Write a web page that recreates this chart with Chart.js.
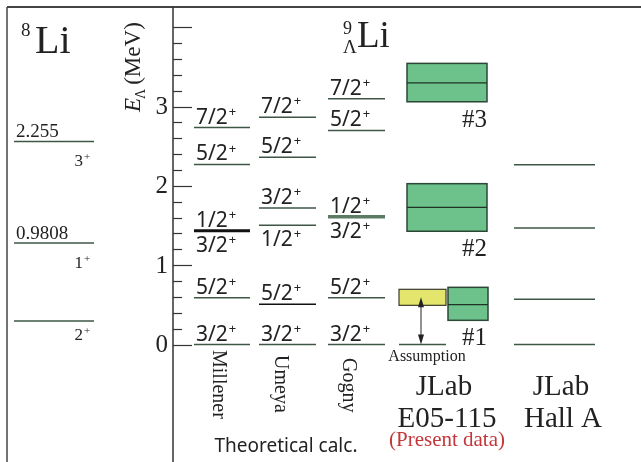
<!DOCTYPE html>
<html>
<head>
<meta charset="utf-8">
<script src="https://cdn.jsdelivr.net/npm/chart.js@4.4.0/dist/chart.umd.min.js"></script>
<style>
  html, body { margin: 0; padding: 0; background: #fff; }
  #wrap { width: 641px; height: 462px; position: relative; }
</style>
</head>
<body>
<div id="wrap"><canvas id="levels"></canvas></div>
<script>
// 8Li core levels (drawn with the ground state at ~0.3 MeV, as in the figure)
const li8Energy = [0.295, 1.28, 2.56];
const li8Value = ['', '0.9808', '2.255'];
const li8Spin = ['2', '1', '3'];

// theory, E_Lambda in MeV
const millenerE = [0, 0.59, 1.435, 2.27, 2.735];
const millenerUp = ['3/2', '5/2', '1/2', '5/2', '7/2'];
const millenerDown = ['', '', '3/2', '', ''];

const umeyaE = [0, 0.507, 1.503, 1.721, 2.361, 2.865];
const umeyaUp = ['3/2', '5/2', '', '3/2', '5/2', '7/2'];
const umeyaDown = ['', '', '1/2', '', '', ''];

const gognyE = [0, 0.59, 1.612, 2.70, 3.10];
const gognyUp = ['3/2', '5/2', '1/2', '5/2', '7/2'];
const gognyDown = ['', '', '3/2', '', ''];

// JLab E05-115 peaks
const peakNames = ['#1', '#2', '#3'];
const peakE = [0.502, 1.73, 3.30];
const peakLow = [0.305, 1.428, 3.061];
const peakHigh = [0.721, 2.028, 3.545];
const assumption = [0.494, 0.696];

// JLab Hall A
const hallAE = [0, 0.57, 1.469, 2.267];

const axisTicks = [0, 0.2, 0.4, 0.6, 0.8, 1, 1.2, 1.4, 1.6, 1.8, 2, 2.2, 2.4, 2.6, 2.8, 3, 3.2, 3.4, 3.6, 3.8, 4];
const axisTickLabels = ['0', '1', '2', '3'];

const LINE = '#3d5646';
const INK = '#222';
const SERIF = '"Liberation Serif", "DejaVu Serif", serif';
const SANS = '"Noto Sans", "Open Sans", sans-serif';

const cols = {
  li8: [14, 94],
  millener: [194, 250],
  umeya: [259, 316],
  gogny: [328, 385],
  jlab: [399, 446],
  peak: [448, 488],
  peakWide: [407, 487],
  hallA: [514, 595]
};

function level(range, e, color, width) {
  return {
    data: [{ x: range[0], y: e }, { x: range[1], y: e }],
    showLine: true,
    borderColor: color || LINE,
    borderWidth: width || 1.5,
    pointRadius: 0,
    pointHoverRadius: 0
  };
}

const datasets = [];
li8Energy.forEach(e => datasets.push(level(cols.li8, e)));
millenerE.forEach((e, i) => datasets.push(i === 2 ? level(cols.millener, e, '#111', 3) : level(cols.millener, e)));
umeyaE.forEach((e, i) => datasets.push(level(cols.umeya, e, i === 1 ? '#111' : LINE)));
gognyE.forEach((e, i) => datasets.push(i === 2 ? level(cols.gogny, e, '#5d7a63', 3.5) : level(cols.gogny, e)));
datasets.push(level(cols.jlab, 0));
peakE.forEach((e, i) => datasets.push(level(i === 0 ? cols.peak : cols.peakWide, e, '#1f3327', 1.2)));
hallAE.forEach(e => datasets.push(level(cols.hallA, e)));

function withSup(ctx, txt, sup, x, y, size, supSize, font) {
  ctx.font = size + 'px ' + font;
  ctx.textAlign = 'left';
  ctx.textBaseline = 'alphabetic';
  ctx.fillText(txt, x, y);
  const w = ctx.measureText(txt).width;
  ctx.font = supSize + 'px ' + font;
  ctx.fillText(sup, x + w + 1, y - size * 0.38);
}

const decor = {
  id: 'decor',
  beforeDatasetsDraw(chart) {
    const { ctx, scales: { x, y } } = chart;
    ctx.save();
    // yellow assumed box
    const ax0 = x.getPixelForValue(cols.jlab[0]), ax1 = x.getPixelForValue(cols.jlab[1]);
    const ay0 = y.getPixelForValue(assumption[1]), ay1 = y.getPixelForValue(assumption[0]);
    ctx.fillStyle = '#e3e56c';
    ctx.strokeStyle = '#3a3a2a';
    ctx.lineWidth = 1.2;
    ctx.fillRect(ax0, ay0, ax1 - ax0, ay1 - ay0);
    ctx.strokeRect(ax0, ay0, ax1 - ax0, ay1 - ay0);
    // green peak boxes
    peakE.forEach((e, i) => {
      const r = i === 0 ? cols.peak : cols.peakWide;
      const px0 = x.getPixelForValue(r[0]), px1 = x.getPixelForValue(r[1]);
      const py0 = y.getPixelForValue(peakHigh[i]), py1 = y.getPixelForValue(peakLow[i]);
      ctx.fillStyle = '#6cc28a';
      ctx.strokeStyle = '#2c4736';
      ctx.lineWidth = 1.5;
      ctx.fillRect(px0, py0, px1 - px0, py1 - py0);
      ctx.strokeRect(px0, py0, px1 - px0, py1 - py0);
    });
    ctx.restore();
  },
  afterDatasetsDraw(chart) {
    const { ctx, scales: { x, y } } = chart;
    ctx.save();
    ctx.fillStyle = INK;
    ctx.strokeStyle = '#333';

    // frame
    ctx.lineWidth = 2;
    ctx.strokeStyle = '#444';
    ctx.beginPath();
    ctx.moveTo(7, 7); ctx.lineTo(641, 7);
    ctx.stroke();
    ctx.lineWidth = 1.5;
    ctx.beginPath();
    ctx.moveTo(7, 7); ctx.lineTo(7, 462);
    ctx.stroke();

    // energy axis
    const axX = 173;
    ctx.strokeStyle = '#333';
    ctx.lineWidth = 1.5;
    ctx.beginPath();
    ctx.moveTo(axX, 7); ctx.lineTo(axX, 462);
    ctx.stroke();
    ctx.lineWidth = 1.2;
    axisTicks.forEach(t => {
      const py = Math.round(y.getPixelForValue(t)) + 0.5;
      const major = Math.abs(t - Math.round(t)) < 1e-6;
      ctx.beginPath();
      ctx.moveTo(axX, py); ctx.lineTo(axX + (major ? 19 : 9), py);
      ctx.stroke();
    });
    ctx.font = '25px ' + SERIF;
    ctx.textAlign = 'right';
    ctx.textBaseline = 'middle';
    axisTickLabels.forEach((lab, i) => ctx.fillText(lab, 168, y.getPixelForValue(i) + 1));

    // axis title
    ctx.save();
    ctx.translate(140, 112);
    ctx.rotate(-Math.PI / 2);
    ctx.textAlign = 'left';
    ctx.textBaseline = 'alphabetic';
    ctx.font = 'italic 23px ' + SERIF;
    ctx.fillText('E', 0, 0);
    let w = ctx.measureText('E').width;
    ctx.font = '14px ' + SERIF;
    ctx.fillText('\u039B', w - 1, 5);
    w += ctx.measureText('\u039B').width + 3;
    ctx.font = '23px ' + SERIF;
    ctx.fillText('(MeV)', w, 0);
    ctx.restore();

    // titles
    ctx.textAlign = 'left';
    ctx.textBaseline = 'alphabetic';
    ctx.font = '19px ' + SERIF;
    ctx.fillText('8', 21, 36);
    ctx.font = '40px ' + SERIF;
    ctx.fillText('Li', 35, 53);
    ctx.font = '18px ' + SERIF;
    ctx.fillText('9', 343, 34);
    ctx.font = '19px ' + SERIF;
    ctx.fillText('\u039B', 343, 53);
    ctx.font = '37px ' + SERIF;
    ctx.fillText('Li', 357, 47);

    // 8Li labels
    li8Energy.forEach((e, i) => {
      const py = y.getPixelForValue(e);
      if (li8Value[i]) {
        ctx.font = '19px ' + SERIF;
        ctx.textAlign = 'left';
        ctx.fillText(li8Value[i], 16, py - 4);
      }
      ctx.font = '17px ' + SERIF;
      ctx.textAlign = 'right';
      ctx.fillText(li8Spin[i], 83, py + (i === 0 ? 19 : 25));
      ctx.font = '11px ' + SERIF;
      ctx.textAlign = 'left';
      ctx.fillText('+', 84, py + (i === 0 ? 13 : 19));
    });

    // theory spin labels
    const theory = [
      [cols.millener, millenerE, millenerUp, millenerDown],
      [cols.umeya, umeyaE, umeyaUp, umeyaDown],
      [cols.gogny, gognyE, gognyUp, gognyDown]
    ];
    theory.forEach(([r, es, ups, downs]) => {
      const lx = x.getPixelForValue(r[0]) + 2;
      es.forEach((e, i) => {
        const py = y.getPixelForValue(e);
        if (ups[i]) withSup(ctx, ups[i], '+', lx, py - 4, 21, 13, SANS);
        if (downs[i]) withSup(ctx, downs[i], '+', lx, py + 21, 21, 13, SANS);
      });
    });

    // peak names
    ctx.font = '25px ' + SERIF;
    ctx.textAlign = 'right';
    ctx.textBaseline = 'alphabetic';
    peakNames.forEach((n, i) => ctx.fillText(n, 487, y.getPixelForValue(peakLow[i]) + 25));

    // assumption arrow
    const arX = 421;
    const yTop = y.getPixelForValue((assumption[0] + assumption[1]) / 2);
    const yBot = y.getPixelForValue(0);
    ctx.strokeStyle = '#222';
    ctx.lineWidth = 1;
    ctx.beginPath();
    ctx.moveTo(arX, yTop + 6); ctx.lineTo(arX, yBot - 6);
    ctx.stroke();
    ctx.fillStyle = '#222';
    ctx.beginPath();
    ctx.moveTo(arX, yTop); ctx.lineTo(arX - 3, yTop + 10); ctx.lineTo(arX + 3, yTop + 10); ctx.closePath();
    ctx.fill();
    ctx.beginPath();
    ctx.moveTo(arX, yBot); ctx.lineTo(arX - 3, yBot - 10); ctx.lineTo(arX + 3, yBot - 10); ctx.closePath();
    ctx.fill();
    ctx.font = '16px ' + SERIF;
    ctx.textAlign = 'center';
    ctx.fillText('Assumption', 427, 361);

    // column names
    ctx.fillStyle = INK;
    [['Millener', 218, 350], ['Umeya', 280, 355], ['Gogny', 348, 358]].forEach(([t, cx, cy]) => {
      ctx.save();
      ctx.translate(cx, cy);
      ctx.rotate(Math.PI / 2);
      ctx.font = '20px ' + SERIF;
      ctx.textAlign = 'left';
      ctx.textBaseline = 'middle';
      ctx.fillText(t, 0, 0);
      ctx.restore();
    });
    ctx.font = '19px ' + SANS;
    ctx.textAlign = 'center';
    ctx.textBaseline = 'alphabetic';
    ctx.fillText('Theoretical calc.', 286, 452);

    ctx.font = '29px ' + SERIF;
    ctx.fillText('JLab', 444, 395);
    ctx.fillText('E05-115', 447, 427);
    ctx.fillText('JLab', 561, 395);
    ctx.fillText('Hall A', 563, 427);
    ctx.font = '21px ' + SERIF;
    ctx.fillStyle = '#c4363a';
    ctx.fillText('(Present data)', 447, 446);

    ctx.restore();
  }
};

new Chart(document.getElementById('levels'), {
  type: 'scatter',
  data: { datasets },
  options: {
    responsive: true,
    maintainAspectRatio: false,
    animation: false,
    events: [],
    layout: { padding: 0 },
    plugins: { legend: { display: false }, tooltip: { enabled: false } },
    scales: {
      x: { type: 'linear', display: false, min: 0, max: 641 },
      y: { type: 'linear', display: false, min: -1.4817, max: 4.3443 }
    }
  },
  plugins: [decor]
});
</script>
</body>
</html>
